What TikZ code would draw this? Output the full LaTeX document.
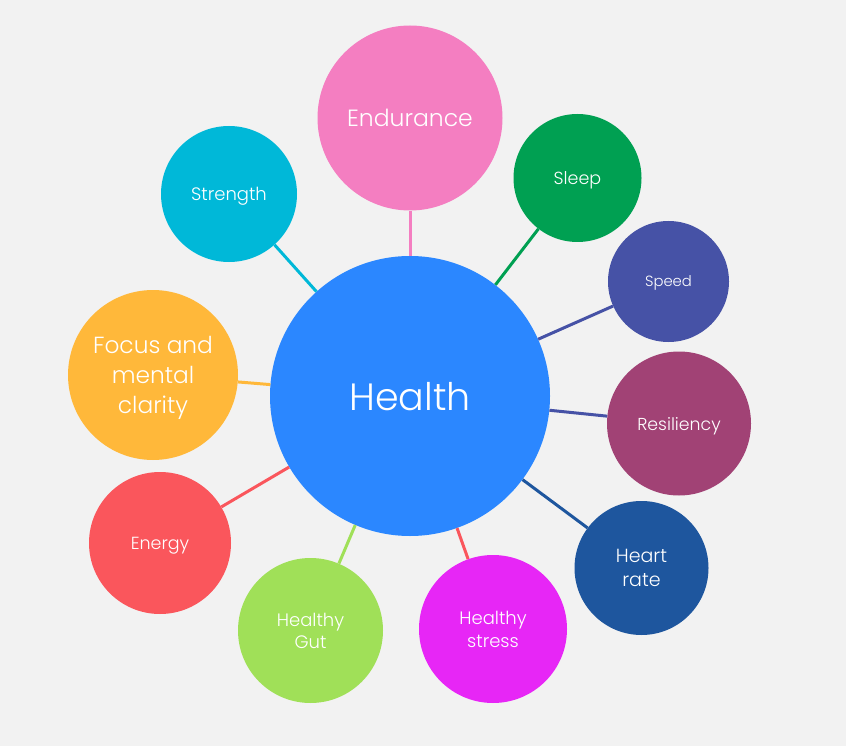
\documentclass[tikz,border=0pt]{standalone}
\usepackage{fontspec}
\setmainfont{Poppins}[UprightFont={* Light}]
\definecolor{bg}{HTML}{F2F2F2}
\definecolor{chealth}{HTML}{2B87FF}
\definecolor{cend}{HTML}{F47EC1}
\definecolor{csleep}{HTML}{00A052}
\definecolor{cspeed}{HTML}{4652A6}
\definecolor{cres}{HTML}{A14275}
\definecolor{cheart}{HTML}{1E569E}
\definecolor{cstress}{HTML}{E726F6}
\definecolor{cgut}{HTML}{A0E058}
\definecolor{cenergy}{HTML}{FA565C}
\definecolor{cfocus}{HTML}{FFB83A}
\definecolor{cstr}{HTML}{00B8D8}
\tikzset{
  bub/.style={circle, inner sep=0pt, text=white, align=center, text depth=0pt},
  link/.style={line width=3pt},
}
\newcommand{\fsz}[2]{\fontsize{#1}{#2}\selectfont}
\begin{document}
\begin{tikzpicture}[x=1pt,y=-1pt]
\fill[bg] (0,0) rectangle (846,746);
\useasboundingbox (0,0) rectangle (846,746);
\node[bub, fill=chealth, minimum size=280pt, font=\fsz{38}{46}] (health) at (410,396) {Health};
\node[bub, fill=cend, minimum size=185pt, font=\fsz{23.5}{28}] (end) at (410,118) {Endurance};
\node[bub, fill=csleep, minimum size=128pt, font=\fsz{17.5}{22}] (sleep) at (577.5,178) {Sleep};
\node[bub, fill=cspeed, minimum size=121pt, font=\fsz{14.8}{19}] (speed) at (668.5,281.5) {Speed};
\node[bub, fill=cres, minimum size=144pt, font=\fsz{17.3}{22}] (res) at (679,423.5) {Resiliency};
\node[bub, fill=cheart, minimum size=134pt, font=\fsz{19}{24}] (heart) at (641.5,568) {Heart\\rate};
\node[bub, fill=cstress, minimum size=148pt, font=\fsz{18}{23}] (stress) at (493,629) {Healthy\\stress};
\node[bub, fill=cgut, minimum size=145pt, font=\fsz{18}{22}] (gut) at (310.5,630.5) {Healthy\\Gut};
\node[bub, fill=cenergy, minimum size=142pt, font=\fsz{17.5}{22}] (energy) at (160,543) {Energy};
\node[bub, fill=cfocus, minimum size=170pt, font=\fsz{23.3}{30}] (focus) at (153,375) {Focus and\\mental\\clarity};
\node[bub, fill=cstr, minimum size=136pt, font=\fsz{18}{22}] (str) at (229,194) {Strength};
\draw[link, cend] (health) -- (end);
\draw[link, csleep] (health) -- (sleep);
\draw[link, cspeed] (health) -- (speed);
\draw[link, cspeed] (health) -- (res);
\draw[link, cheart] (health) -- (heart);
\draw[link, cenergy] (health) -- (stress);
\draw[link, cgut] (health) -- (gut);
\draw[link, cenergy] (health) -- (energy);
\draw[link, cfocus] (health) -- (focus);
\draw[link, cstr] (health) -- (str);
\end{tikzpicture}
\end{document}
